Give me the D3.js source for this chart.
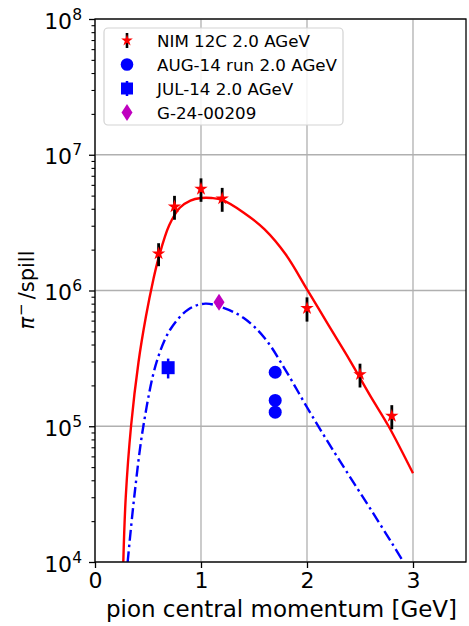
<!DOCTYPE html>
<html><head><meta charset="utf-8">
<script src="https://cdn.jsdelivr.net/npm/d3@7"></script>
<style>body{margin:0;background:#fff}svg{display:block}text{font-family:"DejaVu Sans",sans-serif;fill:#000}</style>
</head><body><svg id="c" width="469" height="626"></svg>
<script>
// ---- data ----
const xTicks = [0, 1, 2, 3];
const yTicks = [1e4, 1e5, 1e6, 1e7, 1e8];
const yTickExp = ["4", "5", "6", "7", "8"];
const xLabel = "pion central momentum [GeV]";
const legendLabels = ["NIM 12C 2.0 AGeV", "AUG-14 run 2.0 AGeV", "JUL-14 2.0 AGeV", "G-24-00209"];

const nimX = [0.6, 0.75, 1.0, 1.2, 2.0, 2.5, 2.8];
const nimY = [1.87e6, 4.15e6, 5.6e6, 4.75e6, 7.4e5, 2.41e5, 1.19e5];
const nimErr = [3.6e5, 8.3e5, 1.1e6, 9.5e5, 1.5e5, 4.8e4, 2.4e4];

const augX = [1.7, 1.7, 1.7];
const augY = [2.5e5, 1.55e5, 1.27e5];

const julX = [0.69];
const julY = [2.7e5];
const julErr = [4.5e4];

const gX = [1.17];
const gY = [8.2e5];

const fitRedX = [0.267, 0.29, 0.34, 0.41, 0.48, 0.55, 0.6, 0.7, 0.8, 0.9, 1.0, 1.1, 1.2, 1.4, 1.6, 1.8, 2.0, 2.2, 2.4, 2.6, 2.77, 3.0];
const fitRedY = [1e4, 3.0e4, 1.0e5, 2.95e5, 6.4e5, 1.2e6, 1.74e6, 3.02e6, 4.07e6, 4.6e6, 4.8e6, 4.8e6, 4.65e6, 3.76e6, 2.82e6, 1.84e6, 1.02e6, 5.6e5, 3.1e5, 1.66e5, 1.0e5, 4.5e4];

const fitBlueX = [0.308, 0.371, 0.456, 0.58, 0.71, 0.88, 1.04, 1.2, 1.4, 1.6, 1.8, 2.0, 2.2, 2.4, 2.6, 2.8, 2.91];
const fitBlueY = [1e4, 3.05e4, 1.0e5, 2.95e5, 5.16e5, 7.25e5, 8.0e5, 7.5e5, 6.3e5, 4.47e5, 2.57e5, 1.38e5, 7.6e4, 4.3e4, 2.45e4, 1.38e4, 1.0e4];

// ---- layout ----
const L = 95, R = 466, T = 19, B = 562;
const svg = d3.select("#c");
const x = d3.scaleLinear([0, 3.5], [L, R]);
const y = d3.scaleLog([1e4, 1e8], [B, T]);

svg.append("defs").append("clipPath").attr("id", "clip")
  .append("rect").attr("x", L).attr("y", T).attr("width", R - L).attr("height", B - T);

// grid
const grid = svg.append("g").attr("stroke", "#b0b0b0").attr("stroke-width", 1.3);
grid.selectAll(".gx").data(xTicks).join("line")
  .attr("x1", d => x(d)).attr("x2", d => x(d)).attr("y1", T).attr("y2", B);
grid.selectAll(".gy").data(yTicks).join("line")
  .attr("y1", d => y(d)).attr("y2", d => y(d)).attr("x1", L).attr("x2", R);

// minor y ticks
const minor = [];
for (let e = 4; e < 8; e++) for (let m = 2; m <= 9; m++) minor.push(m * Math.pow(10, e));
const yMinor = svg.append("g").attr("transform", `translate(${L},0)`)
  .call(d3.axisLeft(y).tickValues(minor).tickSize(3.5).tickFormat(""));
yMinor.select(".domain").remove();
yMinor.selectAll("line").attr("stroke-width", 1.1);

// major y axis
const yAx = svg.append("g").attr("transform", `translate(${L},0)`)
  .call(d3.axisLeft(y).tickValues(yTicks).tickSize(6).tickFormat(""));
yAx.select(".domain").remove();
yAx.selectAll("line").attr("stroke-width", 1.3);
yAx.selectAll(".tick").each(function (d, i) {
  const t = d3.select(this).append("text").attr("x", -13).attr("y", 9)
    .attr("text-anchor", "end").style("font-size", "22px").attr("fill", "#000");
  t.append("tspan").text("10");
  t.append("tspan").text(yTickExp[i]).style("font-size", "15.5px").attr("dy", -9);
});

// x axis
const xAx = svg.append("g").attr("transform", `translate(0,${B})`)
  .call(d3.axisBottom(x).tickValues(xTicks).tickSize(6).tickPadding(4).tickFormat(d3.format("d")));
xAx.select(".domain").remove();
xAx.selectAll("line").attr("stroke-width", 1.3);
xAx.selectAll("text").style("font-size", "22px").attr("fill", "#000");

// axis labels
svg.append("text").attr("x", (L + R) / 2 + 1).attr("y", 617).attr("text-anchor", "middle")
  .style("font-size", "23px").text(xLabel);
const yl = svg.append("text").attr("transform", "translate(34,290) rotate(-90)")
  .attr("text-anchor", "middle").style("font-size", "21px");
yl.append("tspan").text("π").style("font-style", "italic");
yl.append("tspan").text("−").style("font-size", "15px").attr("dy", -8).attr("dx", 1);
yl.append("tspan").text("/spill").attr("dy", 8).attr("dx", 4);

// curves
const plot = svg.append("g").attr("clip-path", "url(#clip)");
const line = d3.line().x(d => x(d[0])).y(d => y(d[1])).curve(d3.curveCatmullRom.alpha(0.5));
plot.append("path").datum(d3.zip(fitBlueX, fitBlueY)).attr("d", line)
  .attr("fill", "none").attr("stroke", "#0000ff").attr("stroke-width", 2.4)
  .attr("stroke-dasharray", "11,4,2.5,4");
plot.append("path").datum(d3.zip(fitRedX, fitRedY)).attr("d", line)
  .attr("fill", "none").attr("stroke", "#ff0000").attr("stroke-width", 2.4);

// markers
const starPath = d3.symbol(d3.symbolStar, 56)();
const nim = d3.zip(nimX, nimY, nimErr);
plot.selectAll(".eb").data(nim).join("line")
  .attr("x1", d => x(d[0])).attr("x2", d => x(d[0]))
  .attr("y1", d => y(d[1] + d[2])).attr("y2", d => y(d[1] - d[2]))
  .attr("stroke", "#000").attr("stroke-width", 2.8);
plot.selectAll(".st").data(nim).join("path").attr("d", starPath)
  .attr("transform", d => `translate(${x(d[0])},${y(d[1])})`).attr("fill", "#ff0000");

plot.selectAll(".au").data(d3.zip(augX, augY)).join("circle")
  .attr("cx", d => x(d[0])).attr("cy", d => y(d[1])).attr("r", 6.5).attr("fill", "#0000ff");

const jul = d3.zip(julX, julY, julErr);
plot.selectAll(".jb").data(jul).join("line")
  .attr("x1", d => x(d[0])).attr("x2", d => x(d[0]))
  .attr("y1", d => y(d[1] + d[2])).attr("y2", d => y(d[1] - d[2]))
  .attr("stroke", "#0000ff").attr("stroke-width", 2.5);
plot.selectAll(".jq").data(jul).join("rect")
  .attr("x", d => x(d[0]) - 6.5).attr("y", d => y(d[1]) - 6.5).attr("width", 13).attr("height", 13)
  .attr("fill", "#0000ff");

const thinDiamond = "M0,-8.5L5.5,0L0,8.5L-5.5,0Z";
plot.selectAll(".gd").data(d3.zip(gX, gY)).join("path").attr("d", thinDiamond)
  .attr("transform", d => `translate(${x(d[0])},${y(d[1])})`).attr("fill", "#bf00bf");

// spines
svg.append("rect").attr("x", L).attr("y", T).attr("width", R - L).attr("height", B - T)
  .attr("fill", "none").attr("stroke", "#000").attr("stroke-width", 1.3);

// legend
const lg = svg.append("g");
lg.append("rect").attr("x", 104).attr("y", 28).attr("width", 239).attr("height", 97).attr("rx", 4)
  .attr("fill", "#fff").attr("fill-opacity", 0.85).attr("stroke", "#d3d3d3").attr("stroke-width", 1.2);
const rows = [40.5, 64.5, 88.5, 112.5];
const mx = 127;
lg.selectAll(".lt").data(legendLabels).join("text")
  .attr("x", 157).attr("y", (d, i) => rows[i] + 6).style("font-size", "16.7px").text(d => d);
lg.append("line").attr("x1", mx).attr("x2", mx).attr("y1", rows[0] - 7.5).attr("y2", rows[0] + 7.5)
  .attr("stroke", "#000").attr("stroke-width", 2.6);
lg.append("path").attr("d", d3.symbol(d3.symbolStar, 42)()).attr("transform", `translate(${mx},${rows[0]})`).attr("fill", "#ff0000");
lg.append("circle").attr("cx", mx).attr("cy", rows[1]).attr("r", 6.3).attr("fill", "#0000ff");
lg.append("line").attr("x1", mx).attr("x2", mx).attr("y1", rows[2] - 7.5).attr("y2", rows[2] + 7.5)
  .attr("stroke", "#0000ff").attr("stroke-width", 2.5);
lg.append("rect").attr("x", mx - 6).attr("y", rows[2] - 6).attr("width", 12).attr("height", 12).attr("fill", "#0000ff");
lg.append("path").attr("d", thinDiamond).attr("transform", `translate(${mx},${rows[3]})`).attr("fill", "#bf00bf");
</script></body></html>
